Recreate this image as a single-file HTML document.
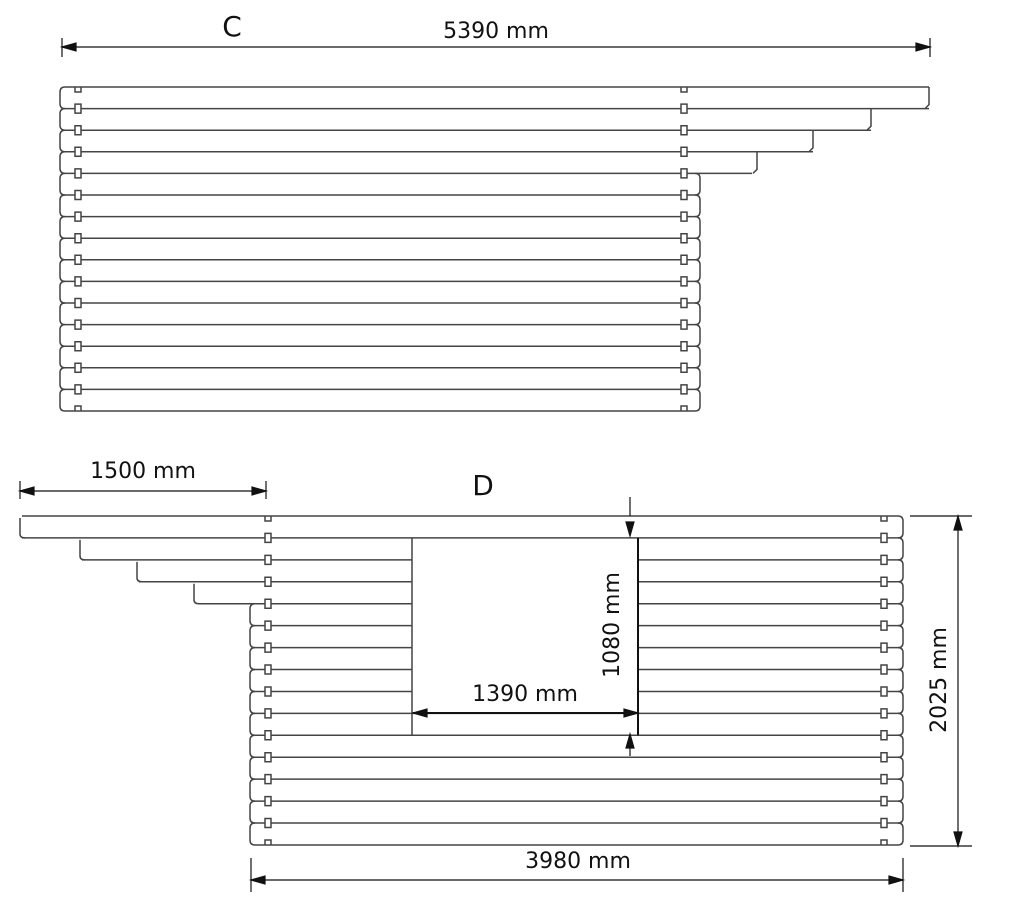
<!DOCTYPE html>
<html><head><meta charset="utf-8"><style>
html,body{margin:0;padding:0;background:#fff;width:1009px;height:899px;overflow:hidden}
svg{display:block}
text{font-family:"DejaVu Sans","Liberation Sans",sans-serif;fill:#111}
</style></head><body>
<svg id="s" width="1009" height="899" viewBox="0 0 1009 899" xmlns="http://www.w3.org/2000/svg">
<g id="g" fill="none" stroke="#444" stroke-width="1.5"></g>
<g id="d" stroke="#111" stroke-width="1.2" fill="#111"></g>
<text x="232" y="36" font-size="28" text-anchor="middle">C</text>
<text x="496" y="38" font-size="22" text-anchor="middle">5390 mm</text>
<text x="143" y="478" font-size="22" text-anchor="middle">1500 mm</text>
<text x="483" y="495" font-size="28" text-anchor="middle">D</text>
<text x="525" y="701" font-size="22" text-anchor="middle">1390 mm</text>
<text x="578" y="868" font-size="22" text-anchor="middle">3980 mm</text>
<text transform="translate(619,625) rotate(-90)" font-size="22" text-anchor="middle">1080 mm</text>
<text transform="translate(946,680) rotate(-90)" font-size="22" text-anchor="middle">2025 mm</text>
</svg>
<script>
var g=document.getElementById('g'),d=document.getElementById('d'),NS='http://www.w3.org/2000/svg';
function P(s,par,extra){var e=document.createElementNS(NS,'path');e.setAttribute('d',s);if(extra)for(var k in extra)e.setAttribute(k,extra[k]);(par||g).appendChild(e);}
function L(x1,y1,x2,y2){P('M'+x1+','+y1+'L'+x2+','+y2);}
function notch(x,y){P('M'+(x-3)+','+(y-4.5)+'h6v9h-6z',g,{fill:'#fff'});}
function topU(x,y){P('M'+(x-3)+','+y+'v5h6v-5');}
function botU(x,y){P('M'+(x-3)+','+y+'v-5h6v5');}
function leftBump(x,y0,y1){P('M'+(x+5)+','+y0+'Q'+x+','+y0+' '+x+','+(y0+5)+'L'+x+','+(y1-5)+'Q'+x+','+y1+' '+(x+5)+','+y1);}
function rightBump(x,y0,y1){P('M'+(x-5)+','+y0+'Q'+x+','+y0+' '+x+','+(y0+5)+'L'+x+','+(y1-5)+'Q'+x+','+y1+' '+(x-5)+','+y1);}
// C
(function(){var L0=60,top=87,p=21.6,n=15,nx1=78,nx2=684;
var R=[];for(var i=0;i<n;i++)R.push(i==0?929:i==1?871:i==2?813:i==3?757:700);
for(var i=0;i<n;i++){var y0=top+i*p,y1=y0+p;leftBump(L0,y0,y1);
 if(i<4){P('M'+R[i]+','+y0+'L'+R[i]+','+(y1-4)+'L'+(R[i]-4)+','+y1);} else rightBump(R[i],y0,y1);}
for(var j=0;j<=n;j++){var y=top+j*p;var r=j==0?R[0]:j==n?R[n-1]:Math.max(R[j-1],R[j]);
 L(L0+5,y,r-(j>=4?5:0),y);
 if(j==0){topU(nx1,y);topU(nx2,y);}else if(j==n){botU(nx1,y);botU(nx2,y);}else{notch(nx1,y);notch(nx2,y);}}
})();
// D
(function(){var top=516,p=21.93,n=15,nx1=268,nx2=884,R=903;
var Lf=[];for(var i=0;i<n;i++)Lf.push(i==0?20:i==1?80:i==2?137:i==3?194:250);
for(var i=0;i<n;i++){var y0=top+i*p,y1=y0+p;rightBump(R,y0,y1);
 if(i<4){P('M'+Lf[i]+','+(y0+2)+'L'+Lf[i]+','+(y1-4)+'Q'+Lf[i]+','+y1+' '+(Lf[i]+5)+','+y1);} else leftBump(Lf[i],y0,y1);}
for(var j=0;j<=n;j++){var y=top+j*p;var l=j==0?Lf[0]:j==n?Lf[n-1]:Math.min(Lf[j-1],Lf[j]);
 l=l+(j>=4?5:2);
 if(j>=2&&j<=8){L(l,y,412,y);L(638,y,R-5,y);} else L(l,y,R-5,y);
 if(j==0){topU(nx1,y);topU(nx2,y);}else if(j==n){botU(nx1,y);botU(nx2,y);}else{notch(nx1,y);notch(nx2,y);}}
var wt=top+p,wb=top+10*p;
L(412,wt,412,wb);
P('M638,'+wt+'L638,'+wb,g,{stroke:'#111','stroke-width':'2'});
})();
function arrowH(x,y,dir){P('M'+x+','+y+'l'+(-dir*14)+',-4l0,8z',d);}
function arrowV(x,y,dir){P('M'+x+','+y+'l-4,'+(-dir*14)+'l8,0z',d);}
P('M62,47L930,47M62,38L62,57M930,38L930,57',d,{fill:'none'});arrowH(62,47,-1);arrowH(930,47,1);
P('M20,491L266,491M20,481L20,499M266,481L266,499',d,{fill:'none'});arrowH(20,491,-1);arrowH(266,491,1);
P('M251,880L903,880M251,858L251,892M903,858L903,892',d,{fill:'none'});arrowH(251,880,-1);arrowH(903,880,1);
P('M958,516L958,846M910,516L972,516M910,846L972,846',d,{fill:'none'});arrowV(958,516,-1);arrowV(958,846,1);
P('M413,713L638,713',d,{fill:'none','stroke-width':'2'});arrowH(413,713,-1);arrowH(638,713,1);
P('M630,497L630,516M630,734L630,756',d,{fill:'none'});arrowV(630,536,1);arrowV(630,734,-1);
</script>
</body></html>
